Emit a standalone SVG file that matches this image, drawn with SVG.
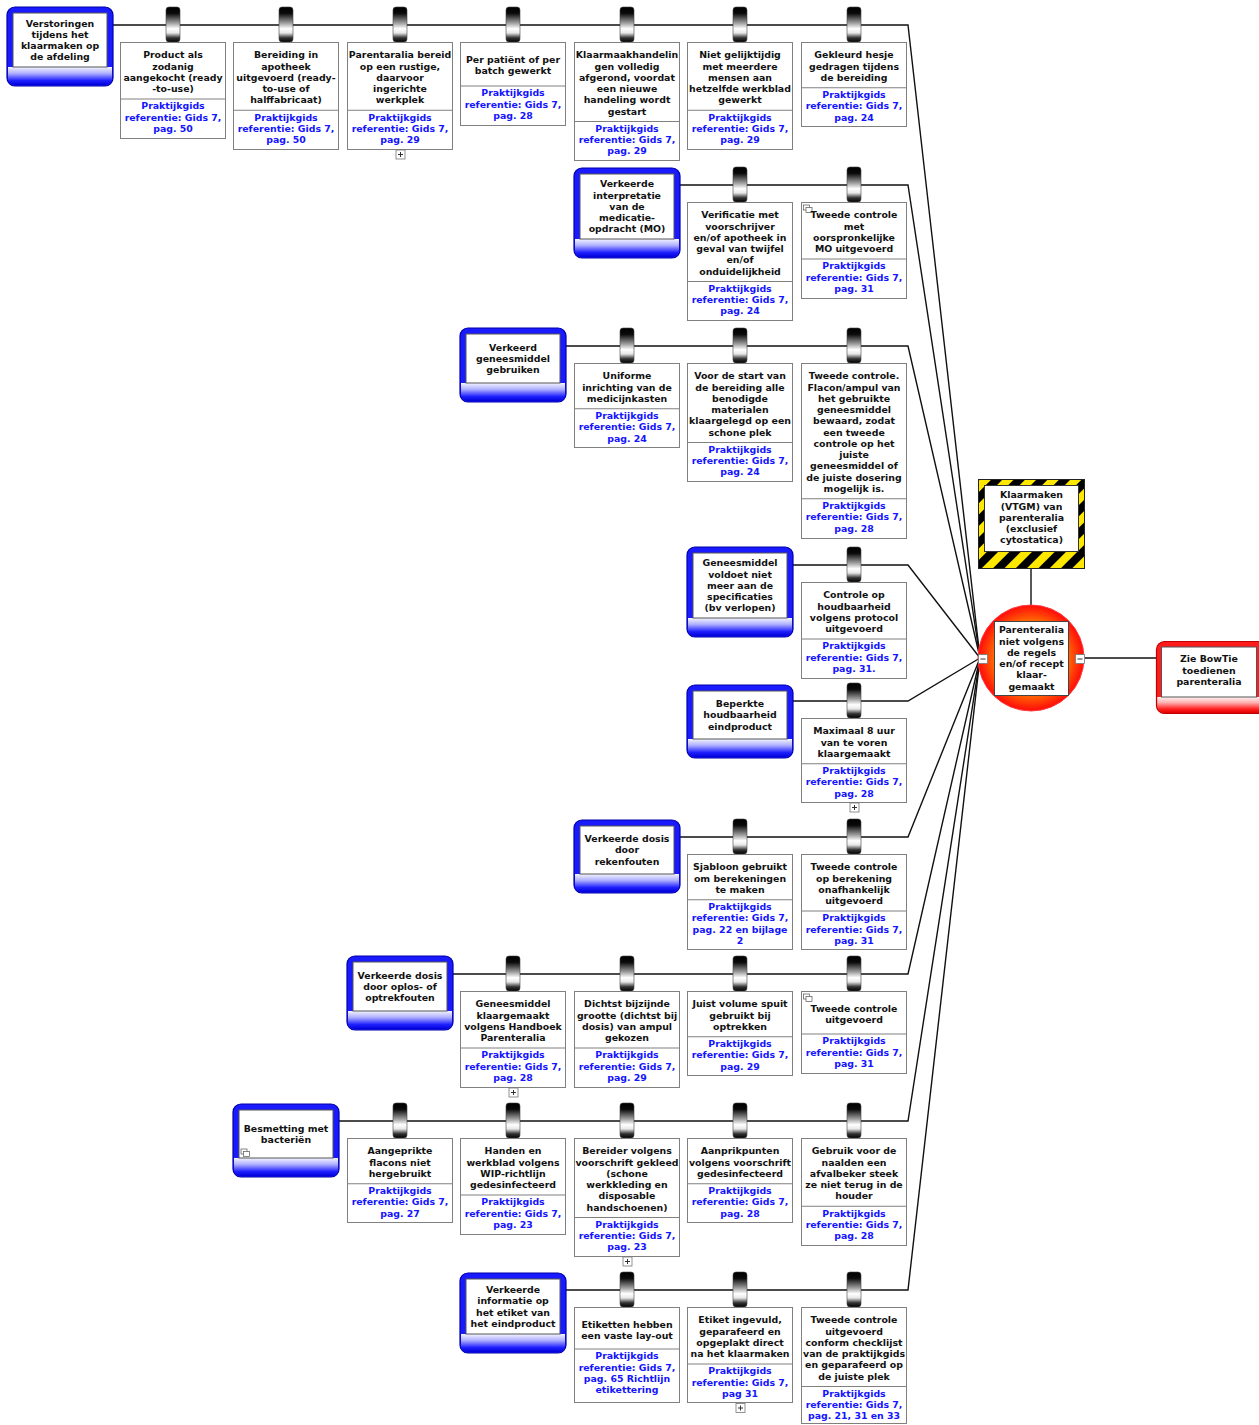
<svg xmlns="http://www.w3.org/2000/svg" xmlns:xlink="http://www.w3.org/1999/xlink" width="1259" height="1425" viewBox="0 0 1259 1425">
<style>
.n{font-family:"DejaVu Sans",Verdana,sans-serif;font-weight:bold;font-size:9.4px;fill:#111;text-anchor:middle}
.r{font-family:"DejaVu Sans",Verdana,sans-serif;font-weight:bold;font-size:9.4px;fill:#1414ff;text-anchor:middle}
.bx{fill:#fff;stroke:#808080;stroke-width:1}
.dv{stroke:#808080;stroke-width:1}
.ln{fill:none;stroke:#111;stroke-width:1.4}
.tin{fill:#fff;stroke:#555;stroke-width:1}
.tout{fill:#1a1aff;stroke:#0000a8;stroke-width:1.2}
.cout{fill:#ff1c1c;stroke:#c00000;stroke-width:1.2}
.pl{fill:#fff;stroke:#777;stroke-width:0.8}
.plx{stroke:#333;stroke-width:1}
</style>
<defs>
<linearGradient id="gi" x1="0" y1="0" x2="0" y2="1">
<stop offset="0" stop-color="#000"/><stop offset="0.18" stop-color="#0a0a0a"/><stop offset="0.45" stop-color="#9a9a9a"/><stop offset="0.62" stop-color="#fff"/><stop offset="0.74" stop-color="#e8e8e8"/><stop offset="0.88" stop-color="#333"/><stop offset="1" stop-color="#000"/>
</linearGradient>
<linearGradient id="gt" x1="0" y1="0" x2="0" y2="1">
<stop offset="0" stop-color="#f4f4ff"/><stop offset="0.35" stop-color="#b0b0ff"/><stop offset="0.75" stop-color="#2020ff"/><stop offset="1" stop-color="#0000d8"/>
</linearGradient>
<linearGradient id="gc" x1="0" y1="0" x2="0" y2="1">
<stop offset="0" stop-color="#fff4f4"/><stop offset="0.35" stop-color="#ffb0b0"/><stop offset="0.75" stop-color="#ff2020"/><stop offset="1" stop-color="#e00000"/>
</linearGradient>
<radialGradient id="gr" cx="0.5" cy="0.5" r="0.5">
<stop offset="0" stop-color="#ffb000"/><stop offset="0.6" stop-color="#ff8a00"/><stop offset="1" stop-color="#ff0a0a"/>
</radialGradient>
<pattern id="hz" width="16" height="16" patternUnits="userSpaceOnUse" patternTransform="rotate(45)">
<rect width="16" height="16" fill="#ffe800"/><rect width="8" height="16" fill="#000"/>
</pattern>
<g id="bi"><rect x="46" y="-35" width="14" height="35" rx="3" fill="url(#gi)" stroke="#444" stroke-width="0.6"/></g>
<g id="cp"><rect x="0" y="0" width="6" height="5" fill="#fff" stroke="#555" stroke-width="0.7"/><rect x="2.5" y="2.5" width="6" height="5" fill="#fff" stroke="#555" stroke-width="0.7"/></g>
</defs>
<rect width="1259" height="1425" fill="#fff"/>

<g id="connectors">
<polyline class="ln" points="113,25 908,25 980,658"/>
<polyline class="ln" points="680,185 908,185 980,658"/>
<polyline class="ln" points="566,346 908,346 980,658"/>
<polyline class="ln" points="793,565 908,565 980,658"/>
<polyline class="ln" points="793,701 908,701 980,658"/>
<polyline class="ln" points="680,837 908,837 980,658"/>
<polyline class="ln" points="453,974 908,974 980,658"/>
<polyline class="ln" points="339,1121 908,1121 980,658"/>
<polyline class="ln" points="566,1290 908,1290 980,658"/>
<line class="ln" x1="1031" y1="569" x2="1031" y2="606"/>
<line class="ln" x1="1084" y1="658" x2="1157" y2="658"/>
</g>

<!-- Threats -->
<g id="t1" transform="translate(7,7)">
<rect class="tout" x="0" y="0" width="106" height="79" rx="8"/>
<path d="M1,60 H105 V71 A7,7 0 0 1 98,78 H8 A7,7 0 0 1 1,71 Z" fill="url(#gt)"/>
<rect class="tin" x="6" y="6" width="94" height="54"/>
<text class="n"><tspan x="53" y="19.5">Verstoringen</tspan><tspan x="53" y="30.75">tijdens het</tspan><tspan x="53" y="42">klaarmaken op</tspan><tspan x="53" y="53.25">de afdeling</tspan></text>
</g>
<g id="t2" transform="translate(574,168)">
<rect class="tout" x="0" y="0" width="106" height="90" rx="8"/>
<path d="M1,71 H105 V82 A7,7 0 0 1 98,89 H8 A7,7 0 0 1 1,82 Z" fill="url(#gt)"/>
<rect class="tin" x="6" y="6" width="94" height="65"/>
<text class="n"><tspan x="53" y="19.4">Verkeerde</tspan><tspan x="53" y="30.65">interpretatie</tspan><tspan x="53" y="41.9">van de</tspan><tspan x="53" y="53.15">medicatie-</tspan><tspan x="53" y="64.4">opdracht (MO)</tspan></text>
</g>
<g id="t3" transform="translate(460,328)">
<rect class="tout" x="0" y="0" width="106" height="74" rx="8"/>
<path d="M1,55 H105 V66 A7,7 0 0 1 98,73 H8 A7,7 0 0 1 1,66 Z" fill="url(#gt)"/>
<rect class="tin" x="6" y="6" width="94" height="49"/>
<text class="n"><tspan x="53" y="22.65">Verkeerd</tspan><tspan x="53" y="33.9">geneesmiddel</tspan><tspan x="53" y="45.15">gebruiken</tspan></text>
</g>
<g id="t4" transform="translate(687,547)">
<rect class="tout" x="0" y="0" width="106" height="90" rx="8"/>
<path d="M1,71 H105 V82 A7,7 0 0 1 98,89 H8 A7,7 0 0 1 1,82 Z" fill="url(#gt)"/>
<rect class="tin" x="6" y="6" width="94" height="65"/>
<text class="n"><tspan x="53" y="19.4">Geneesmiddel</tspan><tspan x="53" y="30.65">voldoet niet</tspan><tspan x="53" y="41.9">meer aan de</tspan><tspan x="53" y="53.15">specificaties</tspan><tspan x="53" y="64.4">(bv verlopen)</tspan></text>
</g>
<g id="t5" transform="translate(687,685)">
<rect class="tout" x="0" y="0" width="106" height="73" rx="8"/>
<path d="M1,54 H105 V65 A7,7 0 0 1 98,72 H8 A7,7 0 0 1 1,65 Z" fill="url(#gt)"/>
<rect class="tin" x="6" y="6" width="94" height="48"/>
<text class="n"><tspan x="53" y="22.15">Beperkte</tspan><tspan x="53" y="33.4">houdbaarheid</tspan><tspan x="53" y="44.65">eindproduct</tspan></text>
</g>
<g id="t6" transform="translate(574,820)">
<rect class="tout" x="0" y="0" width="106" height="73" rx="8"/>
<path d="M1,54 H105 V65 A7,7 0 0 1 98,72 H8 A7,7 0 0 1 1,65 Z" fill="url(#gt)"/>
<rect class="tin" x="6" y="6" width="94" height="48"/>
<text class="n"><tspan x="53" y="22.15">Verkeerde dosis</tspan><tspan x="53" y="33.4">door</tspan><tspan x="53" y="44.65">rekenfouten</tspan></text>
</g>
<g id="t7" transform="translate(347,956)">
<rect class="tout" x="0" y="0" width="106" height="74" rx="8"/>
<path d="M1,55 H105 V66 A7,7 0 0 1 98,73 H8 A7,7 0 0 1 1,66 Z" fill="url(#gt)"/>
<rect class="tin" x="6" y="6" width="94" height="49"/>
<text class="n"><tspan x="53" y="22.65">Verkeerde dosis</tspan><tspan x="53" y="33.9">door oplos- of</tspan><tspan x="53" y="45.15">optrekfouten</tspan></text>
</g>
<g id="t8" transform="translate(233,1104)">
<rect class="tout" x="0" y="0" width="106" height="73" rx="8"/>
<path d="M1,54 H105 V65 A7,7 0 0 1 98,72 H8 A7,7 0 0 1 1,65 Z" fill="url(#gt)"/>
<rect class="tin" x="6" y="6" width="94" height="48"/>
<text class="n"><tspan x="53" y="27.8">Besmetting met</tspan><tspan x="53" y="39.05">bacteriën</tspan></text>
<use href="#cp" x="8" y="45"/>
</g>
<g id="t9" transform="translate(460,1273)">
<rect class="tout" x="0" y="0" width="106" height="80" rx="8"/>
<path d="M1,61 H105 V72 A7,7 0 0 1 98,79 H8 A7,7 0 0 1 1,72 Z" fill="url(#gt)"/>
<rect class="tin" x="6" y="6" width="94" height="55"/>
<text class="n"><tspan x="53" y="20">Verkeerde</tspan><tspan x="53" y="31.25">informatie op</tspan><tspan x="53" y="42.5">het etiket van</tspan><tspan x="53" y="53.75">het eindproduct</tspan></text>
</g>

<!-- Barriers row 1 -->
<g id="b1-1" transform="translate(120,42)">
<use href="#bi"/><rect class="bx" x="0.5" y="0.5" width="105" height="96"/><line class="dv" x1="0.5" x2="105.5" y1="57" y2="57"/>
<text class="n"><tspan x="53" y="16.4">Product als</tspan><tspan x="53" y="27.65">zodanig</tspan><tspan x="53" y="38.9">aangekocht (ready</tspan><tspan x="53" y="50.15">-to-use)</tspan></text>
<text class="r"><tspan x="53" y="67.4">Praktijkgids</tspan><tspan x="53" y="78.65">referentie: Gids 7,</tspan><tspan x="53" y="89.9">pag. 50</tspan></text>
</g>
<g id="b1-2" transform="translate(233,42)">
<use href="#bi"/><rect class="bx" x="0.5" y="0.5" width="105" height="107"/><line class="dv" x1="0.5" x2="105.5" y1="68.25" y2="68.25"/>
<text class="n"><tspan x="53" y="16.4">Bereiding in</tspan><tspan x="53" y="27.65">apotheek</tspan><tspan x="53" y="38.9">uitgevoerd (ready-</tspan><tspan x="53" y="50.15">to-use of</tspan><tspan x="53" y="61.4">halffabricaat)</tspan></text>
<text class="r"><tspan x="53" y="78.65">Praktijkgids</tspan><tspan x="53" y="89.9">referentie: Gids 7,</tspan><tspan x="53" y="101.15">pag. 50</tspan></text>
</g>
<g id="b1-3" transform="translate(347,42)">
<use href="#bi"/><rect class="bx" x="0.5" y="0.5" width="105" height="107"/><line class="dv" x1="0.5" x2="105.5" y1="68.25" y2="68.25"/>
<text class="n"><tspan x="53" y="16.4">Parentaralia bereid</tspan><tspan x="53" y="27.65">op een rustige,</tspan><tspan x="53" y="38.9">daarvoor</tspan><tspan x="53" y="50.15">ingerichte</tspan><tspan x="53" y="61.4">werkplek</tspan></text>
<text class="r"><tspan x="53" y="78.65">Praktijkgids</tspan><tspan x="53" y="89.9">referentie: Gids 7,</tspan><tspan x="53" y="101.15">pag. 29</tspan></text>
<rect class="pl" x="49" y="108" width="9" height="9"/><line class="plx" x1="51" x2="56" y1="112.5" y2="112.5"/><line class="plx" x1="53.5" x2="53.5" y1="110" y2="115"/>
</g>
<g id="b1-4" transform="translate(460,42)">
<use href="#bi"/><rect class="bx" x="0.5" y="0.5" width="105" height="83"/><line class="dv" x1="0.5" x2="105.5" y1="44" y2="44"/>
<text class="n"><tspan x="53" y="21.15">Per patiënt of per</tspan><tspan x="53" y="32.4">batch gewerkt</tspan></text>
<text class="r"><tspan x="53" y="54.4">Praktijkgids</tspan><tspan x="53" y="65.65">referentie: Gids 7,</tspan><tspan x="53" y="76.9">pag. 28</tspan></text>
</g>
<g id="b1-5" transform="translate(574,42)">
<use href="#bi"/><rect class="bx" x="0.5" y="0.5" width="105" height="118"/><line class="dv" x1="0.5" x2="105.5" y1="79.5" y2="79.5"/>
<text class="n"><tspan x="53" y="16.4">Klaarmaakhandelin</tspan><tspan x="53" y="27.65">gen volledig</tspan><tspan x="53" y="38.9">afgerond, voordat</tspan><tspan x="53" y="50.15">een nieuwe</tspan><tspan x="53" y="61.4">handeling wordt</tspan><tspan x="53" y="72.65">gestart</tspan></text>
<text class="r"><tspan x="53" y="89.9">Praktijkgids</tspan><tspan x="53" y="101.15">referentie: Gids 7,</tspan><tspan x="53" y="112.4">pag. 29</tspan></text>
</g>
<g id="b1-6" transform="translate(687,42)">
<use href="#bi"/><rect class="bx" x="0.5" y="0.5" width="105" height="107"/><line class="dv" x1="0.5" x2="105.5" y1="68.25" y2="68.25"/>
<text class="n"><tspan x="53" y="16.4">Niet gelijktijdig</tspan><tspan x="53" y="27.65">met meerdere</tspan><tspan x="53" y="38.9">mensen aan</tspan><tspan x="53" y="50.15">hetzelfde werkblad</tspan><tspan x="53" y="61.4">gewerkt</tspan></text>
<text class="r"><tspan x="53" y="78.65">Praktijkgids</tspan><tspan x="53" y="89.9">referentie: Gids 7,</tspan><tspan x="53" y="101.15">pag. 29</tspan></text>
</g>
<g id="b1-7" transform="translate(801,42)">
<use href="#bi"/><rect class="bx" x="0.5" y="0.5" width="105" height="84"/><line class="dv" x1="0.5" x2="105.5" y1="45.75" y2="45.75"/>
<text class="n"><tspan x="53" y="16.4">Gekleurd hesje</tspan><tspan x="53" y="27.65">gedragen tijdens</tspan><tspan x="53" y="38.9">de bereiding</tspan></text>
<text class="r"><tspan x="53" y="56.15">Praktijkgids</tspan><tspan x="53" y="67.4">referentie: Gids 7,</tspan><tspan x="53" y="78.65">pag. 24</tspan></text>
</g>

<!-- Row 2 -->
<g id="b2-1" transform="translate(687,202)">
<use href="#bi"/><rect class="bx" x="0.5" y="0.5" width="105" height="118"/><line class="dv" x1="0.5" x2="105.5" y1="79.5" y2="79.5"/>
<text class="n"><tspan x="53" y="16.4">Verificatie met</tspan><tspan x="53" y="27.65">voorschrijver</tspan><tspan x="53" y="38.9">en/of apotheek in</tspan><tspan x="53" y="50.15">geval van twijfel</tspan><tspan x="53" y="61.4">en/of</tspan><tspan x="53" y="72.65">onduidelijkheid</tspan></text>
<text class="r"><tspan x="53" y="89.9">Praktijkgids</tspan><tspan x="53" y="101.15">referentie: Gids 7,</tspan><tspan x="53" y="112.4">pag. 24</tspan></text>
</g>
<g id="b2-2" transform="translate(801,202)">
<use href="#bi"/><rect class="bx" x="0.5" y="0.5" width="105" height="96"/><line class="dv" x1="0.5" x2="105.5" y1="57" y2="57"/>
<use href="#cp" x="2.5" y="3"/>
<text class="n"><tspan x="53" y="16.4">Tweede controle</tspan><tspan x="53" y="27.65">met</tspan><tspan x="53" y="38.9">oorspronkelijke</tspan><tspan x="53" y="50.15">MO uitgevoerd</tspan></text>
<text class="r"><tspan x="53" y="67.4">Praktijkgids</tspan><tspan x="53" y="78.65">referentie: Gids 7,</tspan><tspan x="53" y="89.9">pag. 31</tspan></text>
</g>

<!-- Row 3 -->
<g id="b3-1" transform="translate(574,363)">
<use href="#bi"/><rect class="bx" x="0.5" y="0.5" width="105" height="84"/><line class="dv" x1="0.5" x2="105.5" y1="45.75" y2="45.75"/>
<text class="n"><tspan x="53" y="16.4">Uniforme</tspan><tspan x="53" y="27.65">inrichting van de</tspan><tspan x="53" y="38.9">medicijnkasten</tspan></text>
<text class="r"><tspan x="53" y="56.15">Praktijkgids</tspan><tspan x="53" y="67.4">referentie: Gids 7,</tspan><tspan x="53" y="78.65">pag. 24</tspan></text>
</g>
<g id="b3-2" transform="translate(687,363)">
<use href="#bi"/><rect class="bx" x="0.5" y="0.5" width="105" height="118"/><line class="dv" x1="0.5" x2="105.5" y1="79.5" y2="79.5"/>
<text class="n"><tspan x="53" y="16.4">Voor de start van</tspan><tspan x="53" y="27.65">de bereiding alle</tspan><tspan x="53" y="38.9">benodigde</tspan><tspan x="53" y="50.15">materialen</tspan><tspan x="53" y="61.4">klaargelegd op een</tspan><tspan x="53" y="72.65">schone plek</tspan></text>
<text class="r"><tspan x="53" y="89.9">Praktijkgids</tspan><tspan x="53" y="101.15">referentie: Gids 7,</tspan><tspan x="53" y="112.4">pag. 24</tspan></text>
</g>
<g id="b3-3" transform="translate(801,363)">
<use href="#bi"/><rect class="bx" x="0.5" y="0.5" width="105" height="175"/><line class="dv" x1="0.5" x2="105.5" y1="135.75" y2="135.75"/>
<text class="n"><tspan x="53" y="16.4">Tweede controle.</tspan><tspan x="53" y="27.65">Flacon/ampul van</tspan><tspan x="53" y="38.9">het gebruikte</tspan><tspan x="53" y="50.15">geneesmiddel</tspan><tspan x="53" y="61.4">bewaard, zodat</tspan><tspan x="53" y="72.65">een tweede</tspan><tspan x="53" y="83.9">controle op het</tspan><tspan x="53" y="95.15">juiste</tspan><tspan x="53" y="106.4">geneesmiddel of</tspan><tspan x="53" y="117.65">de juiste dosering</tspan><tspan x="53" y="128.9">mogelijk is.</tspan></text>
<text class="r"><tspan x="53" y="146.15">Praktijkgids</tspan><tspan x="53" y="157.4">referentie: Gids 7,</tspan><tspan x="53" y="168.65">pag. 28</tspan></text>
</g>

<!-- Row 4 -->
<g id="b4-1" transform="translate(801,582)">
<use href="#bi"/><rect class="bx" x="0.5" y="0.5" width="105" height="96"/><line class="dv" x1="0.5" x2="105.5" y1="57" y2="57"/>
<text class="n"><tspan x="53" y="16.4">Controle op</tspan><tspan x="53" y="27.65">houdbaarheid</tspan><tspan x="53" y="38.9">volgens protocol</tspan><tspan x="53" y="50.15">uitgevoerd</tspan></text>
<text class="r"><tspan x="53" y="67.4">Praktijkgids</tspan><tspan x="53" y="78.65">referentie: Gids 7,</tspan><tspan x="53" y="89.9">pag. 31.</tspan></text>
</g>

<!-- Row 5 -->
<g id="b5-1" transform="translate(801,718)">
<use href="#bi"/><rect class="bx" x="0.5" y="0.5" width="105" height="84"/><line class="dv" x1="0.5" x2="105.5" y1="45.75" y2="45.75"/>
<text class="n"><tspan x="53" y="16.4">Maximaal 8 uur</tspan><tspan x="53" y="27.65">van te voren</tspan><tspan x="53" y="38.9">klaargemaakt</tspan></text>
<text class="r"><tspan x="53" y="56.15">Praktijkgids</tspan><tspan x="53" y="67.4">referentie: Gids 7,</tspan><tspan x="53" y="78.65">pag. 28</tspan></text>
<rect class="pl" x="49" y="85" width="9" height="9"/><line class="plx" x1="51" x2="56" y1="89.5" y2="89.5"/><line class="plx" x1="53.5" x2="53.5" y1="87" y2="92"/>
</g>

<!-- Row 6 -->
<g id="b6-1" transform="translate(687,854)">
<use href="#bi"/><rect class="bx" x="0.5" y="0.5" width="105" height="95"/><line class="dv" x1="0.5" x2="105.5" y1="45.75" y2="45.75"/>
<text class="n"><tspan x="53" y="16.4">Sjabloon gebruikt</tspan><tspan x="53" y="27.65">om berekeningen</tspan><tspan x="53" y="38.9">te maken</tspan></text>
<text class="r"><tspan x="53" y="56.15">Praktijkgids</tspan><tspan x="53" y="67.4">referentie: Gids 7,</tspan><tspan x="53" y="78.65">pag. 22 en bijlage</tspan><tspan x="53" y="89.9">2</tspan></text>
</g>
<g id="b6-2" transform="translate(801,854)">
<use href="#bi"/><rect class="bx" x="0.5" y="0.5" width="105" height="95"/><line class="dv" x1="0.5" x2="105.5" y1="57" y2="57"/>
<text class="n"><tspan x="53" y="16.4">Tweede controle</tspan><tspan x="53" y="27.65">op berekening</tspan><tspan x="53" y="38.9">onafhankelijk</tspan><tspan x="53" y="50.15">uitgevoerd</tspan></text>
<text class="r"><tspan x="53" y="67.4">Praktijkgids</tspan><tspan x="53" y="78.65">referentie: Gids 7,</tspan><tspan x="53" y="89.9">pag. 31</tspan></text>
</g>

<!-- Row 7 -->
<g id="b7-1" transform="translate(460,991)">
<use href="#bi"/><rect class="bx" x="0.5" y="0.5" width="105" height="96"/><line class="dv" x1="0.5" x2="105.5" y1="57" y2="57"/>
<text class="n"><tspan x="53" y="16.4">Geneesmiddel</tspan><tspan x="53" y="27.65">klaargemaakt</tspan><tspan x="53" y="38.9">volgens Handboek</tspan><tspan x="53" y="50.15">Parenteralia</tspan></text>
<text class="r"><tspan x="53" y="67.4">Praktijkgids</tspan><tspan x="53" y="78.65">referentie: Gids 7,</tspan><tspan x="53" y="89.9">pag. 28</tspan></text>
<rect class="pl" x="49" y="97" width="9" height="9"/><line class="plx" x1="51" x2="56" y1="101.5" y2="101.5"/><line class="plx" x1="53.5" x2="53.5" y1="99" y2="104"/>
</g>
<g id="b7-2" transform="translate(574,991)">
<use href="#bi"/><rect class="bx" x="0.5" y="0.5" width="105" height="96"/><line class="dv" x1="0.5" x2="105.5" y1="57" y2="57"/>
<text class="n"><tspan x="53" y="16.4">Dichtst bijzijnde</tspan><tspan x="53" y="27.65">grootte (dichtst bij</tspan><tspan x="53" y="38.9">dosis) van ampul</tspan><tspan x="53" y="50.15">gekozen</tspan></text>
<text class="r"><tspan x="53" y="67.4">Praktijkgids</tspan><tspan x="53" y="78.65">referentie: Gids 7,</tspan><tspan x="53" y="89.9">pag. 29</tspan></text>
</g>
<g id="b7-3" transform="translate(687,991)">
<use href="#bi"/><rect class="bx" x="0.5" y="0.5" width="105" height="84"/><line class="dv" x1="0.5" x2="105.5" y1="45.75" y2="45.75"/>
<text class="n"><tspan x="53" y="16.4">Juist volume spuit</tspan><tspan x="53" y="27.65">gebruikt bij</tspan><tspan x="53" y="38.9">optrekken</tspan></text>
<text class="r"><tspan x="53" y="56.15">Praktijkgids</tspan><tspan x="53" y="67.4">referentie: Gids 7,</tspan><tspan x="53" y="78.65">pag. 29</tspan></text>
</g>
<g id="b7-4" transform="translate(801,991)">
<use href="#bi"/><rect class="bx" x="0.5" y="0.5" width="105" height="82"/><line class="dv" x1="0.5" x2="105.5" y1="43" y2="43"/>
<use href="#cp" x="2.5" y="3"/>
<text class="n"><tspan x="53" y="21.15">Tweede controle</tspan><tspan x="53" y="32.4">uitgevoerd</tspan></text>
<text class="r"><tspan x="53" y="53.4">Praktijkgids</tspan><tspan x="53" y="64.65">referentie: Gids 7,</tspan><tspan x="53" y="75.9">pag. 31</tspan></text>
</g>

<!-- Row 8 -->
<g id="b8-1" transform="translate(347,1138)">
<use href="#bi"/><rect class="bx" x="0.5" y="0.5" width="105" height="84"/><line class="dv" x1="0.5" x2="105.5" y1="45.75" y2="45.75"/>
<text class="n"><tspan x="53" y="16.4">Aangeprikte</tspan><tspan x="53" y="27.65">flacons niet</tspan><tspan x="53" y="38.9">hergebruikt</tspan></text>
<text class="r"><tspan x="53" y="56.15">Praktijkgids</tspan><tspan x="53" y="67.4">referentie: Gids 7,</tspan><tspan x="53" y="78.65">pag. 27</tspan></text>
</g>
<g id="b8-2" transform="translate(460,1138)">
<use href="#bi"/><rect class="bx" x="0.5" y="0.5" width="105" height="96"/><line class="dv" x1="0.5" x2="105.5" y1="57" y2="57"/>
<text class="n"><tspan x="53" y="16.4">Handen en</tspan><tspan x="53" y="27.65">werkblad volgens</tspan><tspan x="53" y="38.9">WIP-richtlijn</tspan><tspan x="53" y="50.15">gedesinfecteerd</tspan></text>
<text class="r"><tspan x="53" y="67.4">Praktijkgids</tspan><tspan x="53" y="78.65">referentie: Gids 7,</tspan><tspan x="53" y="89.9">pag. 23</tspan></text>
</g>
<g id="b8-3" transform="translate(574,1138)">
<use href="#bi"/><rect class="bx" x="0.5" y="0.5" width="105" height="118"/><line class="dv" x1="0.5" x2="105.5" y1="79.5" y2="79.5"/>
<text class="n"><tspan x="53" y="16.4">Bereider volgens</tspan><tspan x="53" y="27.65">voorschrift gekleed</tspan><tspan x="53" y="38.9">(schone</tspan><tspan x="53" y="50.15">werkkleding en</tspan><tspan x="53" y="61.4">disposable</tspan><tspan x="53" y="72.65">handschoenen)</tspan></text>
<text class="r"><tspan x="53" y="89.9">Praktijkgids</tspan><tspan x="53" y="101.15">referentie: Gids 7,</tspan><tspan x="53" y="112.4">pag. 23</tspan></text>
<rect class="pl" x="49" y="119" width="9" height="9"/><line class="plx" x1="51" x2="56" y1="123.5" y2="123.5"/><line class="plx" x1="53.5" x2="53.5" y1="121" y2="126"/>
</g>
<g id="b8-4" transform="translate(687,1138)">
<use href="#bi"/><rect class="bx" x="0.5" y="0.5" width="105" height="84"/><line class="dv" x1="0.5" x2="105.5" y1="45.75" y2="45.75"/>
<text class="n"><tspan x="53" y="16.4">Aanprikpunten</tspan><tspan x="53" y="27.65">volgens voorschrift</tspan><tspan x="53" y="38.9">gedesinfecteerd</tspan></text>
<text class="r"><tspan x="53" y="56.15">Praktijkgids</tspan><tspan x="53" y="67.4">referentie: Gids 7,</tspan><tspan x="53" y="78.65">pag. 28</tspan></text>
</g>
<g id="b8-5" transform="translate(801,1138)">
<use href="#bi"/><rect class="bx" x="0.5" y="0.5" width="105" height="107"/><line class="dv" x1="0.5" x2="105.5" y1="68.25" y2="68.25"/>
<text class="n"><tspan x="53" y="16.4">Gebruik voor de</tspan><tspan x="53" y="27.65">naalden een</tspan><tspan x="53" y="38.9">afvalbeker steek</tspan><tspan x="53" y="50.15">ze niet terug in de</tspan><tspan x="53" y="61.4">houder</tspan></text>
<text class="r"><tspan x="53" y="78.65">Praktijkgids</tspan><tspan x="53" y="89.9">referentie: Gids 7,</tspan><tspan x="53" y="101.15">pag. 28</tspan></text>
</g>

<!-- Row 9 -->
<g id="b9-1" transform="translate(574,1307)">
<use href="#bi"/><rect class="bx" x="0.5" y="0.5" width="105" height="95"/><line class="dv" x1="0.5" x2="105.5" y1="42" y2="42"/>
<text class="n"><tspan x="53" y="21.15">Etiketten hebben</tspan><tspan x="53" y="32.4">een vaste lay-out</tspan></text>
<text class="r"><tspan x="53" y="52.4">Praktijkgids</tspan><tspan x="53" y="63.65">referentie: Gids 7,</tspan><tspan x="53" y="74.9">pag. 65 Richtlijn</tspan><tspan x="53" y="86.15">etikettering</tspan></text>
</g>
<g id="b9-2" transform="translate(687,1307)">
<use href="#bi"/><rect class="bx" x="0.5" y="0.5" width="105" height="95"/><line class="dv" x1="0.5" x2="105.5" y1="57" y2="57"/>
<text class="n"><tspan x="53" y="16.4">Etiket ingevuld,</tspan><tspan x="53" y="27.65">geparafeerd en</tspan><tspan x="53" y="38.9">opgeplakt direct</tspan><tspan x="53" y="50.15">na het klaarmaken</tspan></text>
<text class="r"><tspan x="53" y="67.4">Praktijkgids</tspan><tspan x="53" y="78.65">referentie: Gids 7,</tspan><tspan x="53" y="89.9">pag 31</tspan></text>
<rect class="pl" x="49" y="96.5" width="9" height="9"/><line class="plx" x1="51" x2="56" y1="101" y2="101"/><line class="plx" x1="53.5" x2="53.5" y1="98.5" y2="103.5"/>
</g>
<g id="b9-3" transform="translate(801,1307)">
<use href="#bi"/><rect class="bx" x="0.5" y="0.5" width="105" height="116"/><line class="dv" x1="0.5" x2="105.5" y1="79.5" y2="79.5"/>
<text class="n"><tspan x="53" y="16.4">Tweede controle</tspan><tspan x="53" y="27.65">uitgevoerd</tspan><tspan x="53" y="38.9">conform checklijst</tspan><tspan x="53" y="50.15">van de praktijkgids</tspan><tspan x="53" y="61.4">en geparafeerd op</tspan><tspan x="53" y="72.65">de juiste plek</tspan></text>
<text class="r"><tspan x="53" y="89.9">Praktijkgids</tspan><tspan x="53" y="101.15">referentie: Gids 7,</tspan><tspan x="53" y="112.4">pag. 21, 31 en 33</tspan></text>
</g>

<!-- Hazard -->
<g id="hazard">
<rect x="978.5" y="479.5" width="106" height="89" fill="url(#hz)" stroke="#222" stroke-width="1"/>
<rect x="984.5" y="485.5" width="94" height="66" fill="#fff" stroke="#333" stroke-width="1"/>
<text class="n"><tspan x="1031.5" y="498.4">Klaarmaken</tspan><tspan x="1031.5" y="509.65">(VTGM) van</tspan><tspan x="1031.5" y="520.9">parenteralia</tspan><tspan x="1031.5" y="532.15">(exclusief</tspan><tspan x="1031.5" y="543.4">cytostatica)</tspan></text>
</g>

<!-- Top event -->
<g id="topevent">
<circle cx="1031" cy="658" r="53" fill="url(#gr)" stroke="#ff3b3b" stroke-width="1"/>
<rect x="994.5" y="621.5" width="74" height="74" fill="#fff" stroke="#444" stroke-width="1"/>
<text class="n"><tspan x="1031.5" y="633.3">Parenteralia</tspan><tspan x="1031.5" y="644.55">niet volgens</tspan><tspan x="1031.5" y="655.8">de regels</tspan><tspan x="1031.5" y="667.05">en/of recept</tspan><tspan x="1031.5" y="678.3">klaar-</tspan><tspan x="1031.5" y="689.55">gemaakt</tspan></text>
<rect class="pl" x="978.5" y="654.5" width="9" height="9"/><line class="plx" x1="980.5" x2="985.5" y1="659" y2="659"/>
<rect class="pl" x="1075.5" y="654.5" width="9" height="9"/><line class="plx" x1="1077.5" x2="1082.5" y1="659" y2="659"/>
</g>

<!-- Consequence -->
<g id="consequence" transform="translate(1156,641)">
<rect class="cout" x="0.5" y="0.5" width="110" height="72" rx="8"/>
<path d="M1.2,56 H110 V72 H8.5 A7.5,7.5 0 0 1 1.2,65 Z" fill="url(#gc)"/>
<rect x="5.5" y="6" width="95" height="50" fill="#fff" stroke="#555" stroke-width="1"/>
<text class="n"><tspan x="53" y="21.4">Zie BowTie</tspan><tspan x="53" y="32.65">toedienen</tspan><tspan x="53" y="43.9">parenteralia</tspan></text>
</g>
</svg>
